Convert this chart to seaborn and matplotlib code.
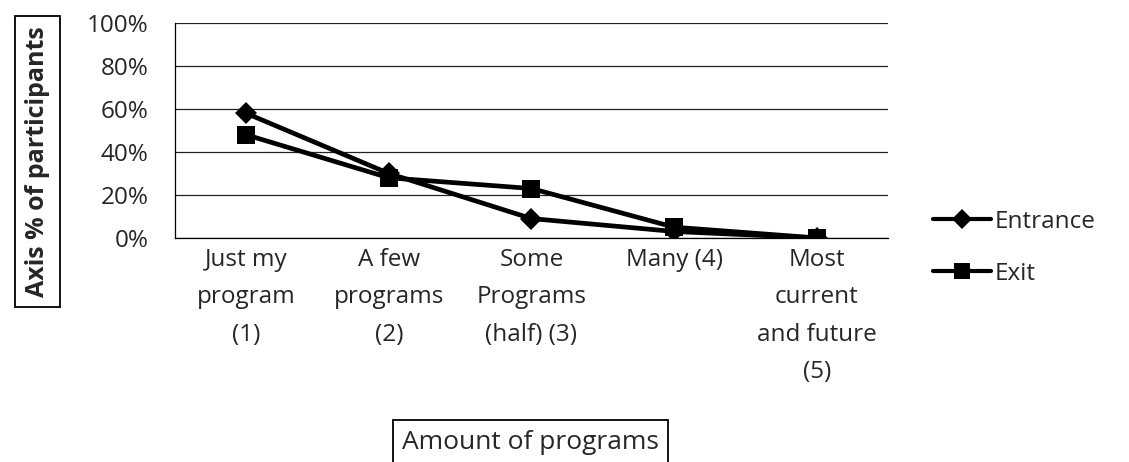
import matplotlib
matplotlib.use("Agg")
import matplotlib.pyplot as plt
from matplotlib.lines import Line2D
from matplotlib.ticker import FixedLocator, PercentFormatter
import seaborn as sns
import pandas as pd

# Survey responses: share of participants by amount of programs
categories = [
    "Just my\nprogram\n(1)",
    "A few\nprograms\n(2)",
    "Some\nPrograms\n(half) (3)",
    "Many (4)",
    "Most\ncurrent\nand future\n(5)",
]
entrance = [58, 30, 9, 3, 0]
exit_vals = [48, 28, 23, 5, 0]
series_names = ["Entrance", "Exit"]
y_ticks = [0, 20, 40, 60, 80, 100]

df = pd.DataFrame({
    "pos": list(range(len(categories))) * 2,
    "value": entrance + exit_vals,
    "series": [series_names[0]] * len(categories) + [series_names[1]] * len(categories),
})

sns.set_style("white")
plt.rcParams["font.family"] = ["Open Sans", "DejaVu Sans"]

fig = plt.figure(figsize=(11.29, 4.62), dpi=100)
ax = fig.add_axes([0.155, 0.485, 0.6315, 0.465])

sns.lineplot(
    data=df, x="pos", y="value", style="series", hue="series",
    palette={"Entrance": "black", "Exit": "black"},
    markers={"Entrance": "D", "Exit": "s"}, dashes=False,
    linewidth=3.4, markersize=12, markeredgewidth=0,
    ax=ax, legend=False,
)
# diamond a touch smaller than the square
for line, ms in zip(ax.lines, [11.5, 13.5]):
    line.set_markersize(ms)

ax.set_xlim(-0.5, len(categories) - 0.5)
ax.set_ylim(0, 100)
ax.set_yticks(y_ticks)
ax.yaxis.set_major_formatter(PercentFormatter(decimals=0))
ax.grid(axis="y", color="#222222", linewidth=0.9)
ax.set_axisbelow(True)

ax.set_xticks(range(len(categories)))
ax.set_xticklabels(categories, fontsize=17.5, linespacing=1.75)
ax.xaxis.set_minor_locator(FixedLocator([i - 0.5 for i in range(len(categories) + 1)]))
ax.tick_params(axis="x", which="major", length=0, pad=7)
ax.tick_params(axis="x", which="minor", length=6, direction="out", color="black", width=0.9)
ax.tick_params(axis="y", length=6, direction="inout", color="black", width=0.9,
               labelsize=17.5, pad=16)

for side in ["top", "right"]:
    ax.spines[side].set_visible(False)
for side in ["left", "bottom"]:
    ax.spines[side].set_color("black")
    ax.spines[side].set_linewidth(0.9)

ax.set_xlabel("")
ax.set_ylabel("")

# boxed axis titles
fig.text(0.033, 0.651, "Axis % of participants", rotation=90, fontsize=18,
         fontweight="bold", ha="center", va="center",
         bbox=dict(boxstyle="square,pad=0.4", fc="white", ec="black", lw=1.3))
fig.text(0.470, 0.043, "Amount of programs", fontsize=19, ha="center", va="center",
         bbox=dict(boxstyle="square,pad=0.35", fc="white", ec="black", lw=1.3))

# legend
handles = [
    Line2D([], [], color="black", lw=3, marker="D", markersize=10, markeredgewidth=0),
    Line2D([], [], color="black", lw=3, marker="s", markersize=12, markeredgewidth=0),
]
fig.legend(handles, series_names, loc="center left", bbox_to_anchor=(0.826, 0.464),
           frameon=False, fontsize=17.5, handlelength=2.4, handletextpad=0.15,
           labelspacing=1.15, borderpad=0, borderaxespad=0)

fig.savefig("out.png", dpi=100)
